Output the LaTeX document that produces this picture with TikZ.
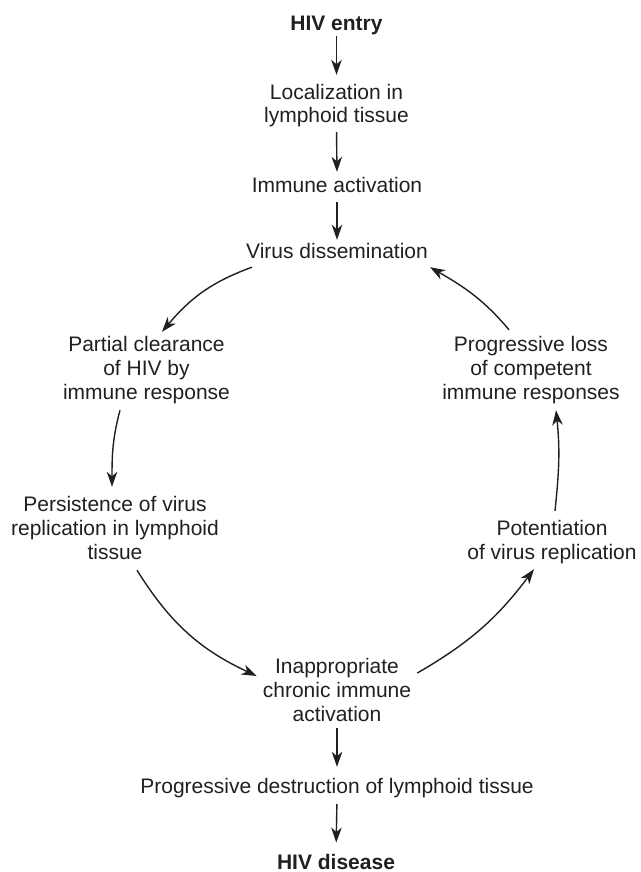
\documentclass[tikz,border=0pt]{standalone}
\usepackage{fontspec}
\setmainfont{Liberation Sans}
\usetikzlibrary{arrows.meta}
\definecolor{ink}{RGB}{35,31,32}
\newcommand\ls{\rule[-4.5pt]{0pt}{20pt}}
\begin{document}
\begin{tikzpicture}[x=1pt,y=1pt,
  txt/.style={inner sep=0pt, align=center, font=\fontsize{21}{24}\selectfont, text=ink},
  boldtxt/.style={txt, font=\fontsize{21}{24}\selectfont\bfseries},
  arr/.style={draw=ink, line width=1.4pt, -{Stealth[length=15pt,width=10.5pt,inset=4.5pt]}}]
\useasboundingbox (0,0) rectangle (640,-872);
\node[boldtxt] (entry) at (336.5,-25.5) {\ls HIV entry};
\node[txt] (loc) at (336.5,-105.5) {\ls Localization in\\\ls lymphoid tissue};
\node[txt] (ia) at (337,-186.5) {\ls Immune activation};
\node[txt] (vd) at (337,-252.5) {\ls Virus dissemination};
\node[txt] (pc) at (146.5,-369.5) {\ls Partial clearance\\\ls of HIV by\\\ls immune response};
\node[txt] (pl) at (531,-369.5) {\ls Progressive loss\\\ls of competent\\\ls immune responses};
\node[txt] (pers) at (115,-529.5) {\ls Persistence of virus\\\ls replication in lymphoid\\\ls tissue};
\node[txt] (pot) at (552,-541.5) {\ls Potentiation\\\ls of virus replication};
\node[txt] (inap) at (337,-691.5) {\ls Inappropriate\\\ls chronic immune\\\ls activation};
\node[txt] (pd) at (337,-787.5) {\ls Progressive destruction of lymphoid tissue};
\node[boldtxt, anchor=base] (dis) at (336,-869) {HIV disease};

\draw[arr, shorten <=0.5pt, shorten >=8.5pt] (entry.south) -- (loc.north);
\draw[arr, shorten <=4.5pt, shorten >=4.5pt] (loc.south) -- (ia.north);
\draw[arr, shorten <=5.5pt, shorten >=2.5pt] (ia.south) -- (vd.north);
\draw[arr, shorten <=2.5pt, shorten >=10.5pt] (inap.south) -- (pd.north);
\draw[arr, shorten <=6.5pt, shorten >=11pt] (pd.south) -- (dis.north);

\draw[arr] ([shift={(6,-4.5)}]vd.south west) to[out=200,in=50] ([shift={(15.5,3.5)}]pc.north);
\draw[arr] ([shift={(-26.5,-6.5)}]pc.south) to[out=255,in=90] ([shift={(-3,8.5)}]pers.north);
\draw[arr] ([shift={(22,-6.5)}]pers.south) to[out=-58,in=155] ([shift={(-6,15.5)}]inap.west);
\draw[arr] ([shift={(6,18.5)}]inap.east) to[out=30,in=233] ([shift={(-18,-5.5)}]pot.south);
\draw[arr] ([shift={(3,8.5)}]pot.north) to[out=84,in=-84] ([shift={(25,-6.5)}]pl.south);
\draw[arr] ([shift={(-22,5.5)}]pl.north) to[out=130,in=-30] ([shift={(2,-4.5)}]vd.south east);
\end{tikzpicture}
\end{document}
